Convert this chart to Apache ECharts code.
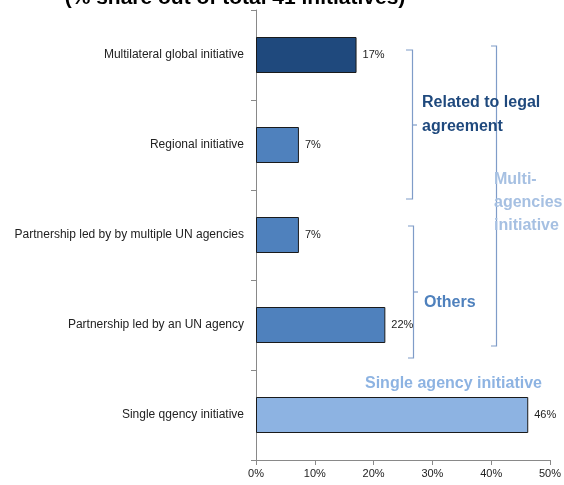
<!DOCTYPE html>
<html>
<head>
<meta charset="utf-8">
<script src="https://cdn.jsdelivr.net/npm/echarts@6/dist/echarts.min.js"></script>
<style>
html,body{margin:0;padding:0;background:#fff;}
#chart{width:564px;height:485px;}
</style>
</head>
<body>
<div id="chart"></div>
<script>
const categories = [
  'Multilateral global initiative',
  'Regional initiative',
  'Partnership led by by multiple UN agencies',
  'Partnership led by an UN agency',
  'Single qgency initiative'
];
const values = [17.1, 7.3, 7.3, 22.0, 46.3];
const barColors = ['#1F497D', '#4F81BD', '#4F81BD', '#4F81BD', '#8DB3E2'];
const xTicks = [0, 10, 20, 30, 40, 50];
const titleText = '(% share out of total 41 initiatives)';

const FONT = 'Liberation Sans';
const chart = echarts.init(document.getElementById('chart'), null, {renderer: 'canvas'});

chart.setOption({
  animation: false,
  backgroundColor: '#fff',
  grid: {left: 256, right: 11, top: 10, bottom: 25, containLabel: false},
  xAxis: {
    type: 'value',
    min: xTicks[0], max: xTicks[xTicks.length - 1], interval: 10,
    axisLine: {show: true, lineStyle: {color: '#898989', width: 1}},
    axisTick: {show: true, length: 5, lineStyle: {color: '#898989'}},
    splitLine: {show: false},
    axisLabel: {formatter: '{value}%', fontFamily: FONT, fontSize: 11, color: '#222', margin: 8}
  },
  yAxis: {
    type: 'category',
    data: categories,
    inverse: true,
    axisLine: {show: true, lineStyle: {color: '#898989', width: 1}},
    axisTick: {show: true, length: 5, inside: false, lineStyle: {color: '#898989'}},
    axisLabel: {fontFamily: FONT, fontSize: 12, color: '#222', margin: 12}
  },
  series: [{
    type: 'bar',
    data: values.map((v, i) => ({value: v, itemStyle: {color: barColors[i]}})),
    barCategoryGap: '60%',
    itemStyle: {borderColor: '#1a1a1a', borderWidth: 1},
    label: {
      show: true, position: 'right', distance: 6,
      fontFamily: FONT, fontSize: 11, color: '#222',
      formatter: p => Math.round(p.value) + '%'
    }
  }],
  graphic: [
    // title (cut off at top)
    {type: 'text', style: {text: titleText, x: 235, y: 9, textAlign: 'center', textVerticalAlign: 'bottom', font: 'bold 21px ' + FONT, fill: '#000'}},
    // bracket: related to legal agreement
    {type: 'polyline', shape: {points: [[406, 50], [412.5, 50], [412.5, 199], [406, 199]]}, style: {stroke: '#7F9CC8', lineWidth: 1.2, fill: null}},
    {type: 'line', shape: {x1: 412.5, y1: 125, x2: 417, y2: 125}, style: {stroke: '#7F9CC8', lineWidth: 1.2}},
    // bracket: others
    {type: 'polyline', shape: {points: [[408, 226], [413.5, 226], [413.5, 358], [408, 358]]}, style: {stroke: '#7F9CC8', lineWidth: 1.2, fill: null}},
    {type: 'line', shape: {x1: 413.5, y1: 292, x2: 418, y2: 292}, style: {stroke: '#7F9CC8', lineWidth: 1.2}},
    // bracket: multi-agencies
    {type: 'polyline', shape: {points: [[491, 46], [496.5, 46], [496.5, 346], [491, 346]]}, style: {stroke: '#7F9CC8', lineWidth: 1.2, fill: null}},
    // texts
    {type: 'text', style: {text: 'Related to legal\nagreement', x: 422, y: 91, font: 'bold 16px ' + FONT, fill: '#1F497D', lineHeight: 24}},
    {type: 'text', style: {text: 'Others', x: 424, y: 295, font: 'bold 16px ' + FONT, fill: '#4F81BD'}},
    {type: 'text', style: {text: 'Multi-\nagencies\ninitiative', x: 494, y: 168, font: 'bold 16px ' + FONT, fill: '#A6C0E2', lineHeight: 23}},
    {type: 'text', style: {text: 'Single agency initiative', x: 365, y: 376, font: 'bold 16px ' + FONT, fill: '#8DB3E2'}}
  ]
});
</script>
</body>
</html>
